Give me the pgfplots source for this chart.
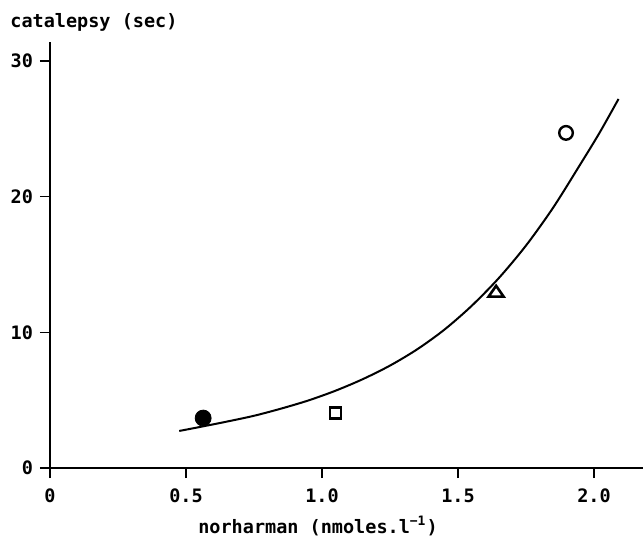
\documentclass[border=0pt]{standalone}
\usepackage{fontspec}
\setmainfont{DejaVu Sans Mono}
\usepackage{pgfplots}
\pgfplotsset{compat=1.18}
\begin{document}
\begin{tikzpicture}[font=\fontsize{9.25}{11}\selectfont\bfseries]
\begin{axis}[
  at={(0,0)}, anchor=south west,
  scale only axis,
  width=296.5pt, height=213pt,
  xmin=0, xmax=2.18, ymin=0, ymax=31.4,
  axis lines=left,
  axis line style={-, line width=0.8pt},
  xtick={0,0.5,1,1.5,2}, xticklabels={0,0.5,1.0,1.5,2.0},
  ytick={0,10,20,30}, yticklabels={0,10,20,30},
  tick align=outside, major tick length=5pt,
  tick style={line width=0.8pt, black},
  xticklabel style={yshift=-2pt},
  clip=false,
]
% fitted curve
\addplot[black, line width=1pt, smooth] coordinates {
  (0.475,2.73)(0.55,3.02)(0.65,3.42)(0.75,3.85)(0.85,4.38)(0.95,4.98)
  (1.05,5.7)(1.15,6.55)(1.25,7.55)(1.35,8.75)(1.45,10.2)(1.55,11.95)
  (1.65,14.0)(1.75,16.4)(1.85,19.2)(1.95,22.4)(2.02,24.7)(2.09,27.2)};
% group means
\addplot[only marks, mark=*, mark size=4pt, black] coordinates {(0.563,3.68)};
\addplot[only marks, mark=square, mark size=2.8pt, black, mark options={line width=1.2pt}] coordinates {(1.05,4.05)};
\addplot[only marks, mark=triangle, mark size=3.6pt, black, mark options={line width=1.3pt, xscale=1.2}] coordinates {(1.64,12.9)};
\addplot[only marks, mark=o, mark size=3.4pt, black, mark options={line width=1.2pt}] coordinates {(1.897,24.7)};
\end{axis}
\node[anchor=west, inner sep=0] at (-20pt,223pt) {catalepsy (sec)};
\node[inner sep=0] at (134pt,-29pt) {norharman (nmoles.l\textsuperscript{−1})};
\pgfresetboundingbox
\path (-25pt,-34.5pt) rectangle (296.5pt,234pt);
\end{tikzpicture}
\end{document}
